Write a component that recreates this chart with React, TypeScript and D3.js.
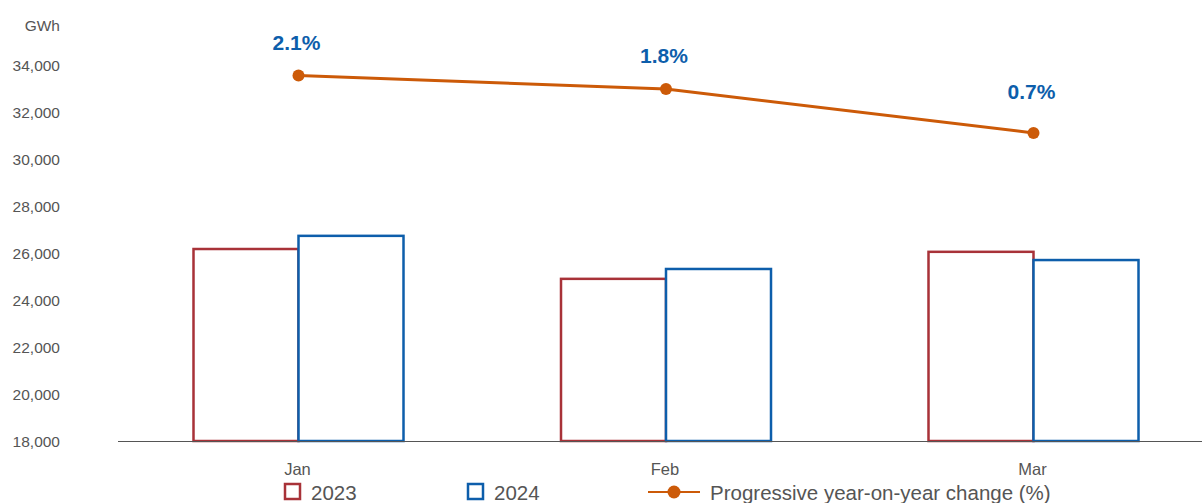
import React from "react";
import * as d3 from "d3";

const months = ["Jan", "Feb", "Mar"];
const values2023 = [26170, 24900, 26050];
const values2024 = [26730, 25320, 25700];
const lineValues = [33550, 32980, 31110];
const changeLabels = ["2.1%", "1.8%", "0.7%"];
const yTicks = [18000, 20000, 22000, 24000, 26000, 28000, 30000, 32000, 34000];

const W = 1202;
const H = 503;
const RED = "#a83238";
const BLUE = "#0d5eab";
const ORANGE = "#cc5a08";
const FONT = "'Liberation Sans', Arial, Helvetica, sans-serif";
const labelOffsets = [-26, -26, -34];

export default function App() {
  const x = d3.scaleBand<string>().domain(months).range([114.75, 1217.25]).padding(0);
  const y = d3.scaleLinear().domain([18000, 34000]).range([441, 65]);
  const barW = 105;
  const center = (m: string) => (x(m) as number) + x.bandwidth() / 2;
  const line = d3
    .line<number>()
    .x((_, i) => center(months[i]))
    .y((d) => y(d));
  const fmt = d3.format(",");

  return (
    <div style={{ position: "absolute", left: 0, top: 0 }}>
      <svg width={W} height={H} style={{ display: "block", fontFamily: FONT }}>
        <text x={60} y={31} textAnchor="end" fontSize={15.5} fill="#555">GWh</text>
        {yTicks.map((t) => (
          <text key={t} x={60} y={y(t) + 5.5} textAnchor="end" fontSize={15.5} fill="#555">
            {fmt(t)}
          </text>
        ))}
        {months.map((m, i) => (
          <g key={m}>
            <rect
              x={center(m) - barW}
              y={y(values2023[i])}
              width={barW}
              height={y(18000) - y(values2023[i])}
              fill="white"
              stroke={RED}
              strokeWidth={2.5}
            />
            <rect
              x={center(m)}
              y={y(values2024[i])}
              width={barW}
              height={y(18000) - y(values2024[i])}
              fill="white"
              stroke={BLUE}
              strokeWidth={2.5}
            />
            <text x={center(m) - 1} y={475} textAnchor="middle" fontSize={16.5} fill="#555">{m}</text>
          </g>
        ))}
        <line x1={118} x2={W} y1={441.5} y2={441.5} stroke="#555" strokeWidth={1.2} />
        <path d={line(lineValues) as string} fill="none" stroke={ORANGE} strokeWidth={3} />
        {months.map((m, i) => (
          <g key={"p" + m}>
            <circle cx={center(m)} cy={y(lineValues[i])} r={6} fill={ORANGE} />
            <text
              x={center(m) - 2}
              y={y(lineValues[i]) + labelOffsets[i]}
              textAnchor="middle"
              fontSize={21}
              fontWeight="bold"
              fill={BLUE}
            >
              {changeLabels[i]}
            </text>
          </g>
        ))}
        <g>
          <rect x={285} y={484} width={15} height={15} fill="white" stroke={RED} strokeWidth={2.5} />
          <text x={311} y={499.5} fontSize={20.5} fill="#555">2023</text>
          <rect x={468} y={484} width={15} height={15} fill="white" stroke={BLUE} strokeWidth={2.5} />
          <text x={494} y={499.5} fontSize={20.5} fill="#555">2024</text>
          <line x1={648} x2={700} y1={492} y2={492} stroke={ORANGE} strokeWidth={2} />
          <circle cx={674} cy={492} r={6.5} fill={ORANGE} />
          <text x={710} y={499.5} fontSize={20.5} fill="#555">Progressive year-on-year change (%)</text>
        </g>
      </svg>
    </div>
  );
}
